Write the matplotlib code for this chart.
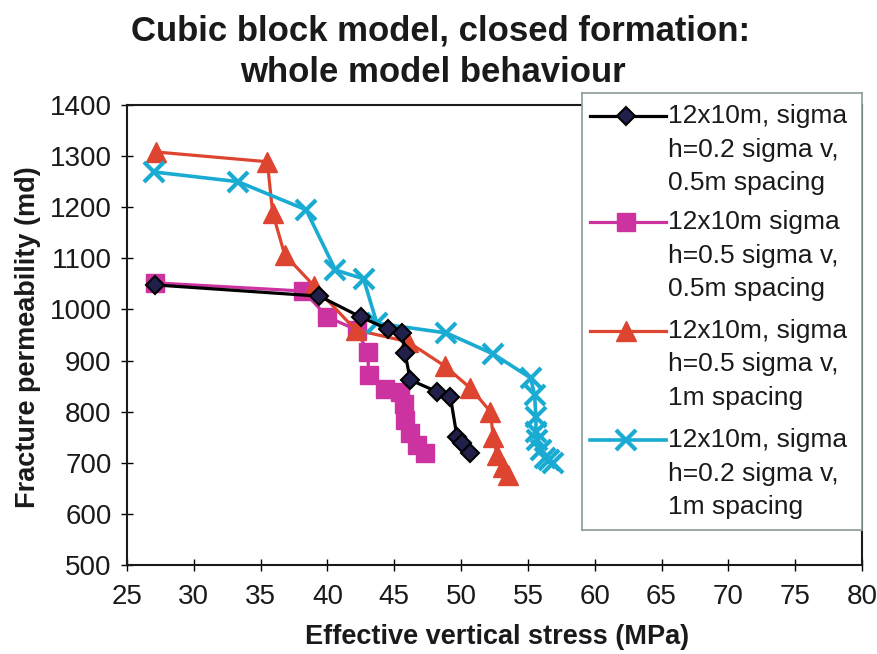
import matplotlib
matplotlib.use("Agg")
import matplotlib.pyplot as plt

plt.rcParams['font.family'] = ['Liberation Sans', 'DejaVu Sans']

# series
stress_a = [27.1, 39.4, 42.5, 44.5, 45.6, 45.8, 46.2, 48.2, 49.2, 49.7, 50.1, 50.7]
perm_a = [1048, 1026, 985, 962, 954, 915, 862, 839, 829, 750, 738, 719]

stress_b = [27.1, 38.2, 40.0, 42.2, 43.0, 43.1, 44.3, 45.4, 45.7, 45.8, 46.2, 46.7, 47.3]
perm_b = [1052, 1036, 985, 960, 917, 872, 844, 839, 815, 784, 758, 735, 719]

stress_c = [27.2, 35.5, 35.9, 36.8, 39.0, 42.1, 46.0, 48.8, 50.7, 52.2, 52.4, 52.7, 53.1, 53.5]
perm_c = [1308, 1289, 1189, 1107, 1046, 960, 937, 889, 846, 800, 750, 715, 692, 676]

stress_d = [27.0, 33.3, 38.4, 40.6, 42.7, 43.7, 48.9, 52.4, 55.2, 55.5, 55.6, 55.6, 55.7,
            56.0, 56.3, 56.6, 56.9]
perm_d = [1269, 1250, 1195, 1077, 1060, 973, 954, 913, 866, 833, 790, 760, 745,
          725, 710, 705, 700]

labels = ["12x10m, sigma\nh=0.2 sigma v,\n0.5m spacing",
          "12x10m sigma\nh=0.5 sigma v,\n0.5m spacing",
          "12x10m, sigma\nh=0.5 sigma v,\n1m spacing",
          "12x10m, sigma\nh=0.2 sigma v,\n1m spacing"]

x_ticks = list(range(25, 81, 5))
y_ticks = list(range(500, 1401, 100))

text_col = '#1a1a1a'
W, H = 877, 654

styles = [
    dict(color='black', lw=2.3, marker='D', ms=9, mfc='#20204a', mec='black', mew=1.5, zorder=4),
    dict(color='#cc33a0', lw=2.3, marker='s', ms=13, mfc='#cc33a0', mec='#cc33a0', zorder=2),
    dict(color='#dd4530', lw=2.3, marker='^', ms=14, mfc='#dd4530', mec='#dd4530', zorder=3),
    dict(color='#19abd2', lw=2.6, marker='x', ms=15, mew=3, zorder=3),
]

fig = plt.figure(figsize=(8.77, 6.54), dpi=100)
ax = fig.add_axes([127 / W, 1 - 565 / H, (862 - 127) / W, (565 - 105) / H])

series = [(stress_a, perm_a), (stress_b, perm_b), (stress_c, perm_c), (stress_d, perm_d)]
for (xs, ys), st in zip(series, styles):
    ax.plot(xs, ys, **st)

ax.set_xlim(25, 80)
ax.set_ylim(500, 1400)
ax.set_xticks(x_ticks)
ax.set_yticks(y_ticks)
ax.tick_params(direction='inout', length=8, width=1, labelsize=20,
               labelcolor=text_col)
ax.tick_params(axis='x', pad=10)
ax.tick_params(axis='y', pad=7)
for s in ax.spines.values():
    s.set_linewidth(1.5)
    s.set_color('#1a1a1a')

fig.text(497 / W, 1 - 637 / H, 'Effective vertical stress (MPa)', ha='center', va='center',
         fontsize=19.5, fontweight='bold', color=text_col)
fig.text(28 / W, 1 - 337 / H, 'Fracture permeability (md)', ha='center', va='center',
         rotation=90, fontsize=19.5, fontweight='bold', color=text_col)

fig.text(441 / W, 1 - 31 / H, 'Cubic block model, closed formation:', ha='center', va='center',
         fontsize=25, fontweight='bold', color=text_col)
fig.text(433 / W, 1 - 72 / H, 'whole model behaviour', ha='center', va='center',
         fontsize=25, fontweight='bold', color=text_col)

# legend box drawn in its own axes, pixel units
lx0, ly0, lx1, ly1 = 582, 93, 862, 530
lax = fig.add_axes([lx0 / W, 1 - ly1 / H, (lx1 - lx0) / W, (ly1 - ly0) / H])
lax.set_xlim(0, lx1 - lx0)
lax.set_ylim(ly1 - ly0, 0)
lax.set_xticks([])
lax.set_yticks([])
lax.set_facecolor('white')
for s in lax.spines.values():
    s.set_color('#8a9a9a')
    s.set_linewidth(1.2)

row_y = [116, 222, 331, 440]
line_gap = 33.5
for y, st, lab in zip(row_y, styles, labels):
    yy = y - ly0
    lax.plot([8, 84], [yy, yy], color=st['color'], lw=st['lw'], zorder=1)
    mk = {k: v for k, v in st.items() if k not in ('lw', 'zorder')}
    lax.plot([44], [yy], linestyle='none', zorder=2, **mk)
    for i, part in enumerate(lab.split('\n')):
        lax.text(86, yy + i * line_gap, part, ha='left', va='center', fontsize=19,
                 color=text_col)

fig.savefig('out.png', dpi=100)
